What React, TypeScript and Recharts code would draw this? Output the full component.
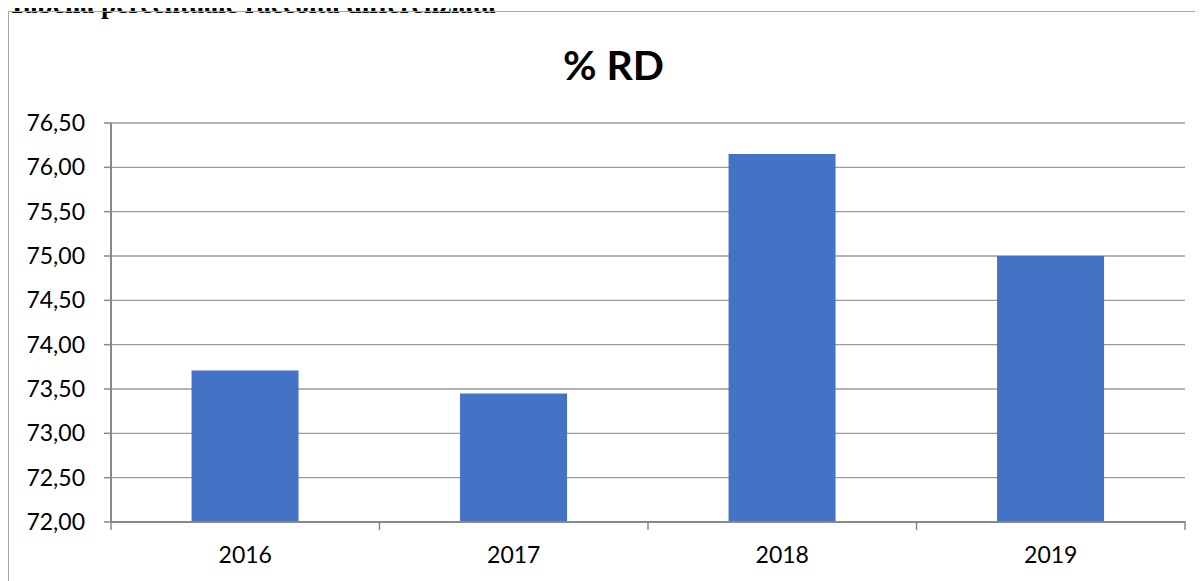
import React from 'react';
import { BarChart, Bar, XAxis, YAxis, CartesianGrid } from 'recharts';

const years = ['2016', '2017', '2018', '2019'];
const rdValues = [73.71, 73.45, 76.15, 75.0];
const yTicks = [72, 72.5, 73, 73.5, 74, 74.5, 75, 75.5, 76, 76.5];

const data = years.map((year, i) => ({ year, rd: rdValues[i] }));

const FONT = 'Lato, "Open Sans", sans-serif';
const AXIS_GREY = '#898989';

const fmt = (v: number) => v.toFixed(2).replace('.', ',');

// category ticks sit at band boundaries, labels stay centred
const YearTick = (props: any) => {
  const { x, y, payload, index, visibleTicksCount } = props;
  const half = payload?.offset ?? 0;
  const top = y - 9;
  return (
    <g>
      <line x1={x - half} x2={x - half} y1={top} y2={top + 9} stroke={AXIS_GREY} strokeWidth={1.5} />
      {index === visibleTicksCount - 1 && (
        <line x1={x + half} x2={x + half} y1={top} y2={top + 9} stroke={AXIS_GREY} strokeWidth={1.5} />
      )}
      <text x={x} y={top + 42} textAnchor="middle" fill="#000" fontSize={23} fontFamily={FONT}>
        {payload.value}
      </text>
    </g>
  );
};

export default function App() {
  return (
    <div
      style={{
        position: 'relative',
        margin: '-8px 0 0 -8px',
        width: 1203,
        height: 581,
        overflow: 'hidden',
        background: '#fff',
      }}
    >
      <div
        style={{
          position: 'absolute',
          left: 8,
          top: -10,
          fontFamily: '"Liberation Serif", "Times New Roman", serif',
          fontWeight: 'bold',
          fontSize: 27.5,
          lineHeight: '27px',
          whiteSpace: 'nowrap',
        }}
      >
        Tabella percentuale raccolta differenziata
      </div>
      <div
        style={{
          position: 'absolute',
          left: 8,
          top: 11,
          width: 1400,
          height: 800,
          border: '1.5px solid #a6a6a6',
        }}
      />
      <div
        style={{
          position: 'absolute',
          left: 0,
          top: 40,
          width: 1203,
          textAlign: 'center',
          fontFamily: FONT,
          fontWeight: 'bold',
          fontSize: 41,
          lineHeight: '50px',
          paddingLeft: 12,
        }}
      >
        % RD
      </div>
      <div style={{ position: 'absolute', left: 0, top: 0 }}>
        <BarChart
          width={1203}
          height={581}
          data={data}
          margin={{ top: 123, right: 18, bottom: 19, left: 0 }}
          barCategoryGap="30%"
        >
          <CartesianGrid vertical={false} stroke="#9a9a9a" strokeWidth={1.3} />
          <XAxis
            dataKey="year"
            height={40}
            axisLine={{ stroke: AXIS_GREY, strokeWidth: 2 }}
            tickLine={false}
            tick={<YearTick />}
            interval={0}
          />
          <YAxis
            width={111}
            domain={[72, 76.5]}
            ticks={yTicks}
            interval={0}
            tickFormatter={fmt}
            axisLine={{ stroke: AXIS_GREY, strokeWidth: 2 }}
            tickLine={{ stroke: AXIS_GREY, strokeWidth: 1.5 }}
            tickSize={7}
            tickMargin={19}
            tick={{ fill: '#000', fontSize: 23, fontFamily: FONT }}
            allowDataOverflow
          />
          <Bar dataKey="rd" fill="#4472C4" isAnimationActive={false} />
        </BarChart>
      </div>
    </div>
  );
}
